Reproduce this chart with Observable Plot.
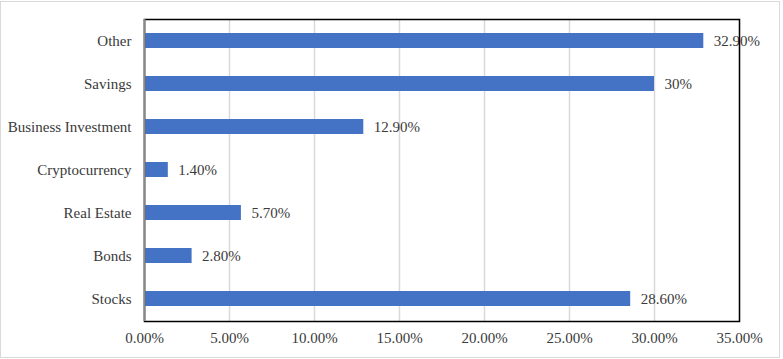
<!DOCTYPE html>
<html>
<head>
<meta charset="utf-8">
<script src="https://cdn.jsdelivr.net/npm/d3@7"></script>
<script src="https://cdn.jsdelivr.net/npm/@observablehq/plot@0.6"></script>
<style>
  html, body { margin: 0; padding: 0; background: #fff; }
  #wrap { position: relative; width: 783px; height: 359px; }
  #border { position: absolute; left: 0; top: 1px; width: 778px; height: 355px; border: 1px solid #d9d9d9; pointer-events: none; }
  svg { display: block; }
  #wrap svg, #wrap svg text { font-family: "Liberation Serif", "DejaVu Serif", serif !important; font-size: 15px !important; }
</style>
</head>
<body>
<div id="wrap"><div id="border"></div></div>
<script>
const categories = ["Stocks", "Bonds", "Real Estate", "Cryptocurrency", "Business Investment", "Savings", "Other"];
const values = [28.6, 2.8, 5.7, 1.4, 12.9, 30, 32.9];
const valueLabels = ["28.60%", "2.80%", "5.70%", "1.40%", "12.90%", "30%", "32.90%"];
const xTicks = [0, 5, 10, 15, 20, 25, 30, 35];
const xTickLabels = ["0.00%", "5.00%", "10.00%", "15.00%", "20.00%", "25.00%", "30.00%", "35.00%"];

const data = categories.map((c, i) => ({category: c, value: values[i], label: valueLabels[i]}));
const yDomain = categories.slice().reverse();
const textColor = "#3a3a3a";

const chart = Plot.plot({
  width: 783,
  height: 359,
  marginLeft: 144,
  marginRight: 44,
  marginTop: 19,
  marginBottom: 38,
  style: {color: textColor, background: "transparent"},
  x: {domain: [0, 35], ticks: xTicks, tickFormat: d => xTickLabels[xTicks.indexOf(d)], tickSize: 0, tickPadding: 11, label: null},
  y: {domain: yDomain, paddingInner: 0.65, paddingOuter: 0.325, tickSize: 0, tickPadding: 13, label: null},
  marks: [
    Plot.gridX(xTicks, {stroke: "#d9d9d9", strokeOpacity: 1, strokeWidth: 1.5}),
    Plot.barX(data, {x: "value", y: "category", fill: "#4472C4"}),
    Plot.text(data, {x: "value", y: "category", text: "label", textAnchor: "start", dx: 10, fill: textColor}),
    Plot.frame({stroke: "#000", strokeWidth: 1.5}),
    Plot.ruleX([0], {stroke: "#898989", strokeWidth: 2})
  ]
});
document.getElementById("wrap").appendChild(chart);
</script>
</body>
</html>
